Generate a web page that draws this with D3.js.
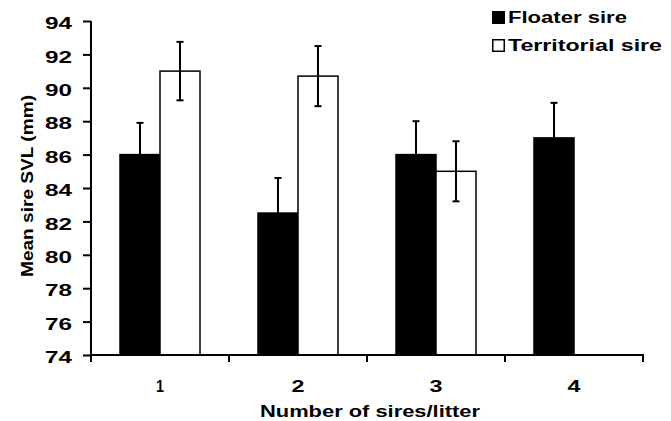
<!doctype html>
<html>
  <head>
    <script src="https://cdnjs.cloudflare.com/ajax/libs/d3/7.8.5/d3.min.js"></script>
    <style>
      body { margin: 0; background: #fff; }
      text { font-family: "Liberation Sans", Arial, sans-serif; font-weight: bold; fill: #000; }
    </style>
  </head>
  <body>
    <svg width="671" height="421"></svg>
    <script>
        var categories = ["1", "2", "3", "4"];
        var series = ["Floater sire", "Territorial sire"];
        var floaterMean = [86, 82.5, 86, 87];
        var floaterErr = [1.9, 2.1, 2.0, 2.1];
        var territorialMean = [91, 90.7, 85, null];
        var territorialErr = [1.75, 1.8, 1.8, null];
        var yTicks = [74, 76, 78, 80, 82, 84, 86, 88, 90, 92, 94];

        drawChart();

        function drawChart() {
            var rows = [];
            categories.forEach((c, i) => {
                rows.push({cat: c, s: series[0], v: floaterMean[i], e: floaterErr[i]});
                if (territorialMean[i] != null)
                    rows.push({cat: c, s: series[1], v: territorialMean[i], e: territorialErr[i]});
            });

            var svg = d3.select("svg");
            var mLeft = 91, mRight = 643, mTop = 21, mBottom = 355;

            var x0 = d3.scaleBand().domain(categories).range([mLeft, mRight]);
            var x1 = d3.scaleBand().domain(series).range([0, x0.bandwidth()])
                .paddingInner(0).paddingOuter(0.725);
            var y = d3.scaleLinear().domain([74, 94]).range([mBottom, mTop]);
            var fill = d3.scaleOrdinal().domain(series).range(["#000", "#fff"]);

            // bars
            svg.append("g").selectAll("rect")
                .data(rows)
                .enter()
                .append("rect")
                    .attr("x", d => x0(d.cat) + x1(d.s))
                    .attr("y", d => y(d.v))
                    .attr("width", x1.bandwidth())
                    .attr("height", d => y(74) - y(d.v))
                    .attr("fill", d => fill(d.s))
                    .attr("stroke", "#000")
                    .attr("stroke-width", 1.5);

            // error bars
            var eb = svg.append("g").attr("stroke", "#000").attr("stroke-width", 2);
            rows.forEach(d => {
                var cx = x0(d.cat) + x1(d.s) + x1.bandwidth() / 2;
                eb.append("line").attr("x1", cx).attr("x2", cx)
                    .attr("y1", y(d.v - d.e)).attr("y2", y(d.v + d.e));
                [d.v - d.e, d.v + d.e].forEach(v => {
                    eb.append("line").attr("x1", cx - 3.5).attr("x2", cx + 3.5)
                        .attr("y1", y(v)).attr("y2", y(v));
                });
            });

            // y axis
            var yAxis = svg.append("g")
                .attr("transform", "translate(" + mLeft + ",0)")
                .call(d3.axisLeft(y).tickValues(yTicks).tickSize(8).tickPadding(11));
            yAxis.select(".domain").attr("stroke-width", 2).attr("d", "M0," + mTop + "V" + (mBottom + 7));
            yAxis.selectAll(".tick line").attr("stroke-width", 2);
            yAxis.selectAll(".tick text")
                .attr("font-size", 17)
                .attr("font-family", null)
                .attr("dy", "0.45em")
                .attr("textLength", 27)
                .attr("lengthAdjust", "spacingAndGlyphs");

            // x axis: ticks at band boundaries, labels at band centres
            var xg = svg.append("g").attr("stroke", "#000").attr("stroke-width", 2);
            xg.append("line").attr("x1", mLeft).attr("x2", mRight + 1).attr("y1", mBottom).attr("y2", mBottom);
            var bounds = categories.map(c => x0(c)).concat([mRight]);
            bounds.forEach(b => {
                xg.append("line").attr("x1", b).attr("x2", b).attr("y1", mBottom).attr("y2", mBottom + 7);
            });
            svg.append("g").selectAll("text")
                .data(categories)
                .enter()
                .append("text")
                    .attr("x", d => x0(d) + x0.bandwidth() / 2)
                    .attr("y", 392)
                    .attr("text-anchor", "middle")
                    .attr("font-size", 17)
                    .attr("textLength", d => d === "1" ? 8 : 13)
                    .attr("lengthAdjust", "spacingAndGlyphs")
                    .text(d => d);

            // axis titles
            svg.append("text")
                .attr("x", 370).attr("y", 417)
                .attr("text-anchor", "middle")
                .attr("font-size", 16)
                .attr("textLength", 220)
                .attr("lengthAdjust", "spacingAndGlyphs")
                .text("Number of sires/litter");
            svg.append("text")
                .attr("transform", "translate(33,186) rotate(-90)")
                .attr("text-anchor", "middle")
                .attr("font-size", 16)
                .attr("textLength", 182)
                .attr("lengthAdjust", "spacingAndGlyphs")
                .text("Mean sire SVL (mm)");

            // legend
            var legendW = [119, 154];
            var lg = svg.append("g").selectAll("g")
                .data(series)
                .enter()
                .append("g")
                    .attr("transform", (d, i) => "translate(492," + (11 + i * 28) + ")");
            lg.append("rect")
                .attr("x", 0.75).attr("y", 0.75)
                .attr("width", 11.5).attr("height", 11.5)
                .attr("fill", d => fill(d))
                .attr("stroke", "#000").attr("stroke-width", 1.5);
            lg.append("text")
                .attr("x", 16).attr("y", 12.3)
                .attr("font-size", 16)
                .attr("textLength", (d, i) => legendW[i])
                .attr("lengthAdjust", "spacingAndGlyphs")
                .text(d => d);
        }
    </script>
  </body>
</html>
